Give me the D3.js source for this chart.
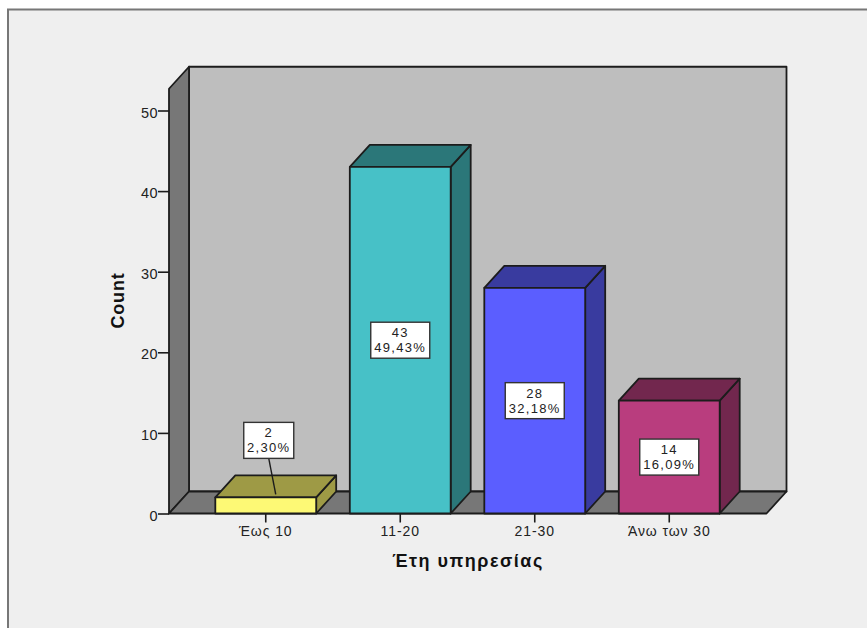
<!DOCTYPE html>
<html><head><meta charset="utf-8">
<script src="https://cdn.jsdelivr.net/npm/d3@7"></script>
<style>html,body{margin:0;padding:0;background:#fff}svg{display:block}text{font-family:"Liberation Sans",Arial,sans-serif;fill:#222}</style>
</head><body><svg id="c" width="867" height="628"></svg>
<script>
const categories = ["Έως 10","11-20","21-30","Άνω των 30"];
const counts = [2,43,28,14];
const percents = ["2,30%","49,43%","32,18%","16,09%"];
const frontColors = ["#fdf975","#47c1c7","#5b5eff","#b93d7e"];
const darkColors = ["#9e9a45","#2b7779","#393b9f","#72274e"];
const yTicks = [0,10,20,30,40,50];
const yTop = 52.7;

const svg = d3.select("#c");
const dx = 20, dy = -22;
const x = d3.scaleBand().domain(categories).range([198.5,736.5]).paddingInner(.25).paddingOuter(.125);
const y = d3.scaleLinear().domain([0,50]).range([513.5,110.5]);
const left = 169, right = 766.5;
const stroke = "#1c1c1c";
const poly = (pts,fill,sw=1.8) => svg.append("polygon").attr("points",pts.map(p=>p.join(",")).join(" "))
  .attr("fill",fill).attr("stroke",stroke).attr("stroke-width",sw).attr("stroke-linejoin","round");

// panel
svg.append("rect").attr("x",8).attr("y",9.5).attr("width",880).attr("height",640)
  .attr("fill","#efefef").attr("stroke","#777777").attr("stroke-width",2);

// 3D frame
const y0 = y(0), yT = y(yTop);
poly([[left+dx,yT+dy],[right+dx,yT+dy],[right+dx,y0+dy],[left+dx,y0+dy]],"#bebebe");
poly([[left,yT],[left+dx,yT+dy],[left+dx,y0+dy],[left,y0]],"#777777");
poly([[left,y0],[left+dx,y0+dy],[right+dx,y0+dy],[right,y0]],"#777777");

// bars
counts.forEach((v,i)=>{
  const a = x(categories[i]), b = a+x.bandwidth(), t = y(v);
  poly([[b,t],[b+dx,t+dy],[b+dx,y0+dy],[b,y0]],darkColors[i]);
  poly([[a,t],[a+dx,t+dy],[b+dx,t+dy],[b,t]],darkColors[i]);
  poly([[a,t],[b,t],[b,y0],[a,y0]],frontColors[i]);
});

// axes
const yAxis = svg.append("g").attr("transform",`translate(${left},0)`)
  .call(d3.axisLeft(y).tickValues(yTicks).tickSize(11).tickPadding(0).tickFormat(d3.format("d")));
const xAxis = svg.append("g").attr("transform",`translate(0,${y0})`)
  .call(d3.axisBottom(x).tickSize(9).tickPadding(3));
[yAxis,xAxis].forEach(g=>{
  g.select(".domain").remove();
  g.selectAll("line").attr("stroke",stroke).attr("stroke-width",1.6);
  g.selectAll("text").attr("font-size",14).attr("font-family","Liberation Sans").attr("fill","#333");
});
yAxis.selectAll("text").attr("font-size",14.5).attr("letter-spacing",0.4).attr("dy","0.45em");
xAxis.selectAll("text").attr("dy","0.78em").attr("letter-spacing",0.9);

// data labels
counts.forEach((v,i)=>{
  const cx = x(categories[i])+x.bandwidth()/2;
  const small = i===0;
  const w = small?50:59, h=36;
  const bx = small ? cx+3 : cx;
  const by = small ? y(v)-57 : (y(v)+y0)/2;
  if(small){
    svg.append("line").attr("x1",bx).attr("y1",by+h/2).attr("x2",cx+dx/2).attr("y2",y(v)+dy/2+8)
      .attr("stroke",stroke).attr("stroke-width",1.4);
  }
  svg.append("rect").attr("x",bx-w/2).attr("y",by-h/2).attr("width",w).attr("height",h)
    .attr("fill","#fff").attr("stroke","#333").attr("stroke-width",1.4);
  [[v,by-3],[percents[i],by+12]].forEach(([s,ty])=>{
    svg.append("text").attr("x",bx).attr("y",ty).attr("text-anchor","middle")
      .attr("font-size",13).attr("letter-spacing",1.3).text(s);
  });
});

// titles
svg.append("text").attr("x",468).attr("y",567).attr("text-anchor","middle").attr("letter-spacing",1.5)
  .attr("font-size",18).attr("font-weight","bold").style("fill","#111").text("Έτη υπηρεσίας");
svg.append("text").attr("transform","translate(124,300.5) rotate(-90)").attr("text-anchor","middle").attr("letter-spacing",0.8)
  .attr("font-size",18).attr("font-weight","bold").style("fill","#111").text("Count");
</script></body></html>
